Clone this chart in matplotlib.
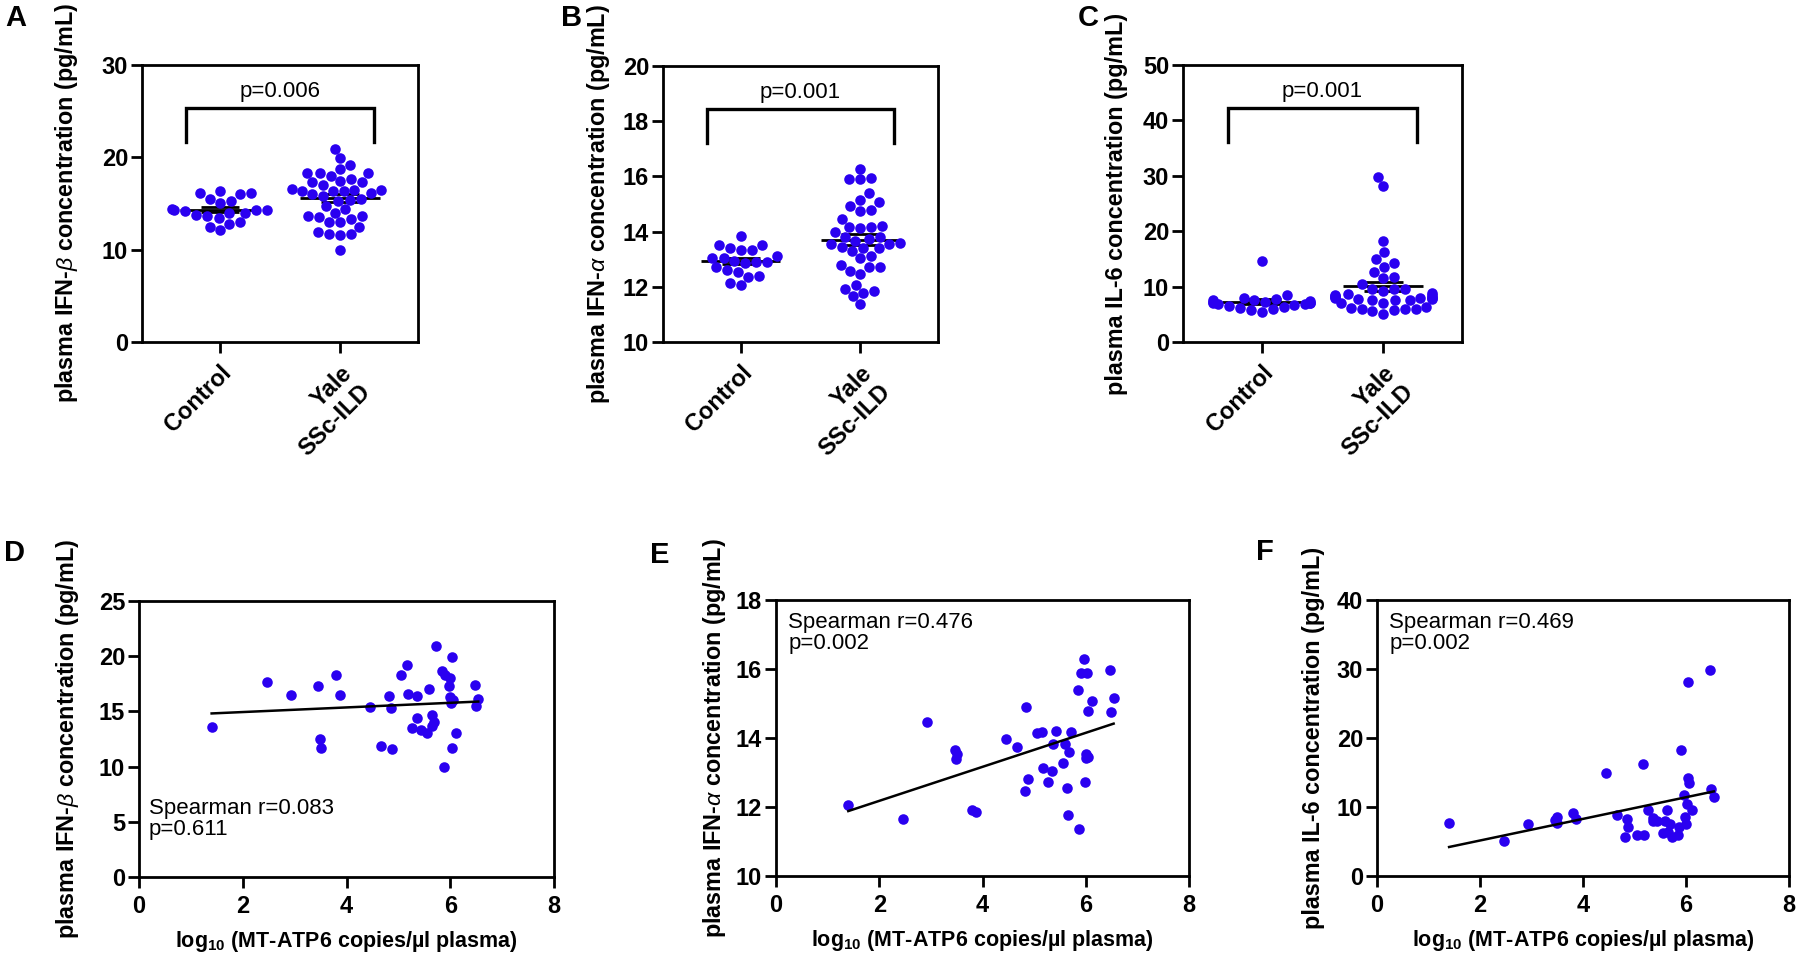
import numpy as np
import pandas as pd
import seaborn as sns
import matplotlib
matplotlib.use("Agg")
from matplotlib import pyplot as plt

plt.rcParams['font.family'] = 'Liberation Sans'
plt.rcParams['mathtext.fontset'] = 'custom'
plt.rcParams['mathtext.rm'] = 'Liberation Sans'
plt.rcParams['mathtext.it'] = 'Liberation Sans:italic'
plt.rcParams['mathtext.bf'] = 'Liberation Sans:bold'

BLUE = '#2a00f0'
W, H = 1800, 957

# Yale SSc-ILD patients: log10 MT-ATP6 copies/ul plasma and plasma cytokines
mtdna = [1.40, 2.46, 2.93, 3.46, 3.49, 3.50, 3.80, 3.87, 4.45, 4.66,
         4.82, 4.85, 4.88, 5.05, 5.16, 5.18, 5.27, 5.35, 5.36, 5.43,
         5.56, 5.59, 5.64, 5.65, 5.68, 5.72, 5.85, 5.87, 5.90, 5.97,
         5.99, 6.00, 6.01, 6.03, 6.04, 6.05, 6.12, 6.47, 6.49, 6.54]
ifnb_yale = [13.6, 17.7, 16.5, 17.3, 12.5, 11.7, 18.3, 16.5, 15.4, 11.9,
             16.4, 15.3, 11.6, 18.3, 19.2, 16.6, 13.5, 16.4, 14.4, 13.3,
             13.0, 17.0, 14.7, 13.7, 14.0, 20.9, 18.7, 10.0, 18.3, 17.3,
             18.0, 16.3, 15.8, 11.7, 19.9, 16.0, 13.0, 17.4, 15.5, 16.1]
ifna_yale = [12.06, 11.65, 14.46, 13.66, 13.40, 13.55, 11.91, 11.86, 13.98, 13.74,
             12.47, 14.91, 12.80, 14.14, 14.17, 13.12, 12.72, 13.04, 13.82, 14.21,
             13.28, 13.82, 12.56, 11.78, 13.60, 14.17, 15.39, 11.37, 15.89, 16.28,
             12.72, 13.41, 13.54, 15.89, 14.78, 13.45, 15.06, 15.96, 14.75, 15.15]
il6_yale = [7.7, 5.1, 7.6, 8.1, 7.7, 8.5, 9.2, 8.3, 14.9, 8.9,
            5.7, 8.2, 7.1, 5.9, 16.3, 5.9, 9.5, 8.4, 7.9, 8.0,
            6.2, 7.9, 9.5, 6.4, 7.6, 5.6, 5.9, 7.1, 18.2, 11.8,
            8.6, 7.6, 10.4, 28.1, 14.2, 13.5, 9.6, 29.8, 12.6, 11.5]

# healthy controls
ifnb_ctrl = [16.1, 15.5, 15.3, 16.0, 16.1, 16.4, 15.1, 14.3, 13.6, 12.5, 13.4,
             12.8, 13.0, 12.1, 14.3, 13.8, 14.0, 14.3, 14.4, 14.0, 14.2]
ifna_ctrl = [13.85, 13.5, 13.35, 13.5, 13.35, 13.4, 12.95, 13.05, 12.85, 12.9,
             13.05, 13.1, 12.9, 12.6, 12.4, 12.55, 12.35, 12.7, 12.05, 12.15]
il6_ctrl = [14.7, 8.4, 8.0, 7.8, 7.6, 7.5, 7.4, 7.3, 7.2, 7.1, 7.0,
            7.0, 6.9, 6.8, 6.7, 6.5, 6.3, 6.1, 5.9, 5.7, 5.5]

groups = ['Control', 'Yale\nSSc-ILD']
group_p = ['p=0.006', 'p=0.001', 'p=0.001']
spearman = ['Spearman r=0.083\np=0.611', 'Spearman r=0.476\np=0.002', 'Spearman r=0.469\np=0.002']
ylabels = [r'plasma IFN-$\beta$ concentration (pg/mL)',
           r'plasma IFN-$\alpha$ concentration (pg/mL)',
           'plasma IL-6 concentration (pg/mL)']
xlabel = r'log$_{\mathbf{10}}$ (MT-ATP6 copies/µl plasma)'
top_ylim = [(0, 30, 10), (10, 20, 2), (0, 50, 10)]
bot_ylim = [(0, 25, 5), (10, 18, 2), (0, 40, 10)]

TICK_FS = 17
LAB_FS = 16.8

fig = plt.figure(figsize=(W / 100, H / 100), dpi=100)


def px_axes(l, r, t, b):
    return fig.add_axes([l / W, 1 - b / H, (r - l) / W, (b - t) / H])


def box(ax):
    for s in ax.spines.values():
        s.set_linewidth(2)
    ax.tick_params(width=2, length=8, direction='out')


# ---- top row: group comparisons
top_boxes = [(142, 418, 65, 342), (663, 938, 66, 342), (1183, 1462, 65, 342)]
top_ylab_x = [-0.225, -0.185, -0.197]
top_data = [(ifnb_ctrl, ifnb_yale), (ifna_ctrl, ifna_yale), (il6_ctrl, il6_yale)]
for i, (ctrl, yale) in enumerate(top_data):
    ax = px_axes(*top_boxes[i])
    df = pd.DataFrame({'group': [groups[0]] * len(ctrl) + [groups[1]] * len(yale),
                       'value': ctrl + yale})
    sns.swarmplot(data=df, x='group', y='value', order=groups, ax=ax, color=BLUE,
                  size=7.6, linewidth=0, zorder=3, warn_thresh=1)
    for j, vals in enumerate([ctrl, yale]):
        m = np.mean(vals)
        sem = np.std(vals, ddof=1) / np.sqrt(len(vals))
        ax.hlines(m, j - 0.33, j + 0.33, color='black', lw=2, zorder=2)
        ax.hlines([m - sem, m + sem], j - 0.16, j + 0.16, color='black', lw=2, zorder=2)
    lo, hi, step = top_ylim[i]
    ax.set_xlim(-0.65, 1.65)
    ax.set_ylim(lo, hi)
    ticks = np.arange(lo, hi + step / 2, step)
    ax.set_yticks(ticks, labels=[f'{t:g}' for t in ticks], fontsize=TICK_FS, fontweight='bold')
    ax.set_xticks([0, 1], labels=groups, fontsize=TICK_FS, fontweight='bold', rotation=45,
                  ha='right', va='top', rotation_mode='anchor', multialignment='right')
    box(ax)
    ax.tick_params(axis='x', pad=6)
    ax.tick_params(axis='y', pad=2)
    tr = ax.get_xaxis_transform()
    ax.plot([-0.28, -0.28, 1.28, 1.28], [0.722, 0.845, 0.845, 0.722], color='black',
            lw=2.4, transform=tr, solid_joinstyle='miter', clip_on=False)
    ax.text(0.5, 0.905, group_p[i], transform=tr, ha='center', va='center', fontsize=16)
    ax.set_xlabel('')
    ax.set_ylabel(ylabels[i], fontsize=LAB_FS, fontweight='bold')
    ax.yaxis.set_label_coords(top_ylab_x[i], 0.5)

# ---- bottom row: correlations with mtDNA
bot_boxes = [(139, 554, 601, 877), (776, 1189, 600, 876), (1377, 1789, 600, 876)]
bot_ylab_x = [-0.14, -0.116, -0.126]
for i, yvals in enumerate([ifnb_yale, ifna_yale, il6_yale]):
    ax = px_axes(*bot_boxes[i])
    ax.scatter(mtdna, yvals, s=7.6 ** 2, color=BLUE, linewidths=0, zorder=3)
    slope, icpt = np.polyfit(mtdna, yvals, 1)
    xs = np.array([min(mtdna), max(mtdna)])
    ax.plot(xs, icpt + slope * xs, color='black', lw=1.8, zorder=4)
    lo, hi, step = bot_ylim[i]
    ax.set_xlim(0, 8)
    ax.set_ylim(lo, hi)
    ticks = np.arange(lo, hi + step / 2, step)
    ax.set_yticks(ticks, labels=[f'{t:g}' for t in ticks], fontsize=TICK_FS, fontweight='bold')
    xt = np.arange(0, 9, 2)
    ax.set_xticks(xt, labels=[f'{t:g}' for t in xt], fontsize=TICK_FS, fontweight='bold')
    box(ax)
    ax.tick_params(axis='y', pad=2)
    ax.tick_params(axis='x', pad=5)
    if i == 0:
        ax.text(0.024, 0.135, spearman[i], transform=ax.transAxes, ha='left', va='bottom',
                fontsize=16, linespacing=1.0)
    else:
        ax.text(0.03, 0.955, spearman[i], transform=ax.transAxes, ha='left', va='top',
                fontsize=16, linespacing=1.0)
    ax.set_xlabel(xlabel, fontsize=15.5, fontweight='bold')
    ax.xaxis.set_label_coords(0.5, -0.19)
    ax.set_ylabel(ylabels[i], fontsize=LAB_FS, fontweight='bold')
    ax.yaxis.set_label_coords(bot_ylab_x[i], 0.5)

# panel letters
letters = {'A': (16, 18), 'B': (572, 18), 'C': (1088, 18),
           'D': (14, 553), 'E': (660, 555), 'F': (1265, 552)}
for k, (x, y) in letters.items():
    fig.text(x / W, 1 - y / H, k, fontsize=21, fontweight='bold', ha='center', va='center')

fig.savefig('out.png', dpi=100)
